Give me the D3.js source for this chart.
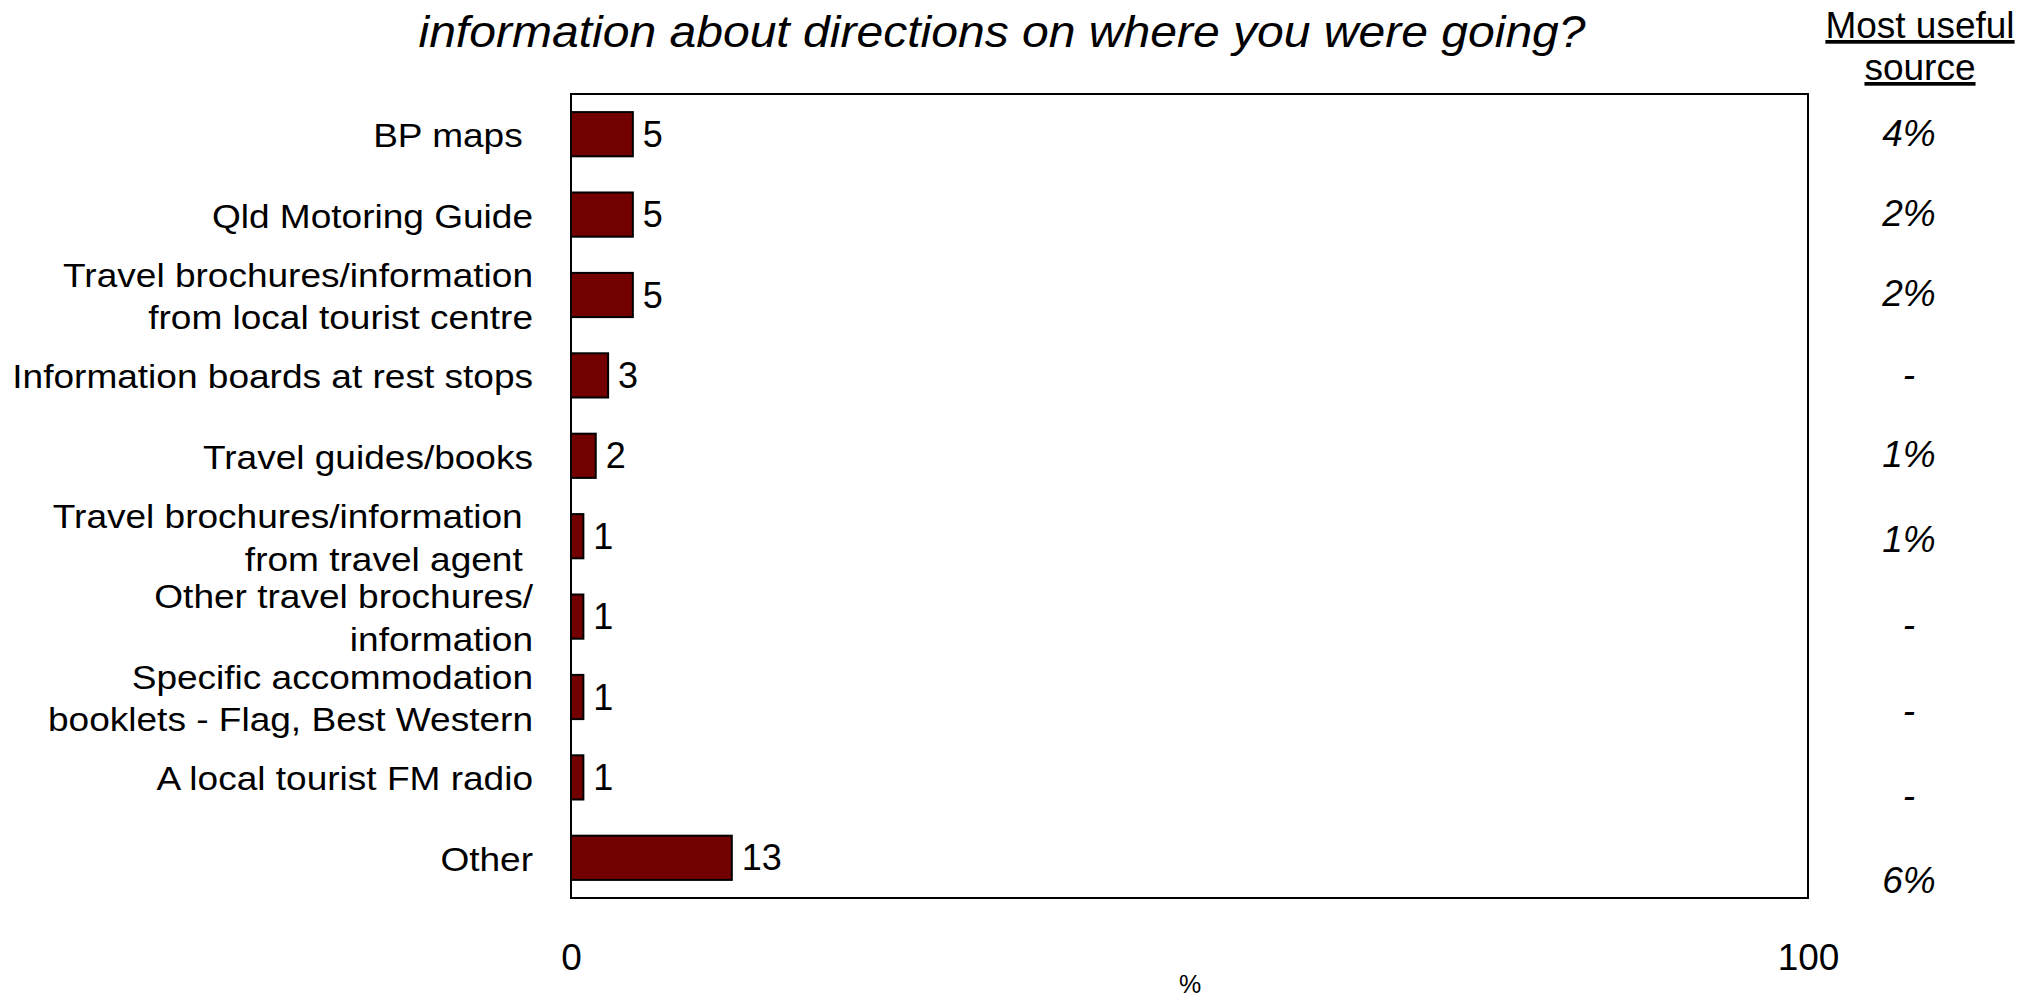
<!DOCTYPE html>
<html>
<head>
<meta charset="utf-8">
<script src="https://cdn.jsdelivr.net/npm/d3@7"></script>
<style>
  body { margin: 0; background: #fff; }
  text { font-family: "Liberation Sans", Arial, sans-serif; fill: #000; white-space: pre; }
</style>
</head>
<body>
<div id="d3-container"></div>
<script>
// categories, top to bottom (each entry = lines of the label)
const labelLines = [
    ["BP maps "],
    ["Qld Motoring Guide"],
    ["Travel brochures/information", "from local tourist centre"],
    ["Information boards at rest stops"],
    ["Travel guides/books"],
    ["Travel brochures/information ", "from travel agent "],
    ["Other travel brochures/", "information"],
    ["Specific accommodation", "booklets - Flag, Best Western"],
    ["A local tourist FM radio"],
    ["Other"]
];
const values = [5, 5, 5, 3, 2, 1, 1, 1, 1, 13];
const mostUseful = ["4%", "2%", "2%", "-", "1%", "1%", "-", "-", "-", "6%"];
const xTicks = [0, 100];
const title = "information about directions on where you were going?";

const width = 2021,
    height = 997,
    margin = { top: 94, bottom: 99, left: 571, right: 213 };

const data = values.map((v, i) => ({ i: i, value: v, lines: labelLines[i], useful: mostUseful[i] }));

const svg = d3
    .select("#d3-container")
    .append("svg")
    .attr("width", width)
    .attr("height", height);

const xScale = d3
    .scaleLinear()
    .domain([0, 100])
    .range([margin.left, width - margin.right]);

const yScale = d3
    .scaleBand()
    .domain(data.map(d => d.i))
    .range([margin.top, height - margin.bottom])
    .paddingInner(0.45)
    .paddingOuter(0.225);

// the right hand column is spaced a little wider in its lower half
const usefulScale = d3
    .scaleLinear()
    .domain([0, 4, 9])
    .range([133, 454, 880]);

// title (second line of the question), the font is slightly widened like the original
svg.append("text")
    .attr("transform", "translate(1002, 47) scale(1.08, 1)")
    .attr("text-anchor", "middle")
    .attr("font-size", 44.5)
    .attr("font-style", "italic")
    .text(title);

// plot frame
svg.append("rect")
    .attr("x", xScale(0))
    .attr("y", margin.top)
    .attr("width", xScale(100) - xScale(0))
    .attr("height", height - margin.bottom - margin.top)
    .attr("fill", "none")
    .attr("stroke", "#000")
    .attr("stroke-width", 2);

// bars
svg.selectAll("rect.bar")
    .data(data)
    .join("rect")
    .attr("class", "bar")
    .attr("x", xScale(0))
    .attr("y", d => yScale(d.i))
    .attr("width", d => xScale(d.value) - xScale(0))
    .attr("height", yScale.bandwidth())
    .attr("fill", "#730000")
    .attr("stroke", "#000")
    .attr("stroke-width", 2);

// value labels
svg.selectAll("text.value")
    .data(data)
    .join("text")
    .attr("class", "value")
    .attr("x", d => xScale(d.value) + 10)
    .attr("y", d => yScale(d.i) + yScale.bandwidth() / 2)
    .attr("dy", "0.35em")
    .attr("font-size", 36)
    .text(d => d.value);

// category labels
const lineGap = 43;
const labels = svg.selectAll("text.cat")
    .data(data)
    .join("text")
    .attr("class", "cat")
    .attr("text-anchor", "end")
    .attr("font-size", 32.5)
    .attr("transform", d => `translate(533, ${yScale(d.i) + yScale.bandwidth() / 2}) scale(1.14, 1)`);

labels.selectAll("tspan")
    .data(d => d.lines.map((l, k) => ({
        text: l,
        y: (k - (d.lines.length - 1) / 2) * lineGap
    })))
    .join("tspan")
    .attr("x", 0)
    .attr("y", t => t.y)
    .attr("dy", "0.4em")
    .text(t => t.text);

// x axis
const xAxis = d3.axisBottom(xScale).tickValues(xTicks).tickSize(0).tickPadding(46);
const gx = svg.append("g")
    .attr("transform", `translate(0, ${height - margin.bottom})`)
    .call(xAxis);
gx.select(".domain").remove();
gx.selectAll("text")
    .attr("font-size", 37)
    .attr("font-family", "Liberation Sans, Arial, sans-serif")
    .attr("fill", "#000");

svg.append("text")
    .attr("x", 1190)
    .attr("y", 984)
    .attr("dy", "0.35em")
    .attr("text-anchor", "middle")
    .attr("font-size", 25)
    .text("%");

// "Most useful source" column
const colX = 1920;
svg.append("text")
    .attr("x", colX)
    .attr("y", 38)
    .attr("text-anchor", "middle")
    .attr("font-size", 37)
    .attr("text-decoration", "underline")
    .text("Most useful");
svg.append("text")
    .attr("x", colX)
    .attr("y", 80)
    .attr("text-anchor", "middle")
    .attr("font-size", 37)
    .attr("text-decoration", "underline")
    .text("source");

svg.selectAll("text.useful")
    .data(data)
    .join("text")
    .attr("class", "useful")
    .attr("x", 1909)
    .attr("y", d => usefulScale(d.i))
    .attr("dy", "0.35em")
    .attr("text-anchor", "middle")
    .attr("font-size", 37)
    .attr("font-style", "italic")
    .text(d => d.useful);
</script>
</body>
</html>
